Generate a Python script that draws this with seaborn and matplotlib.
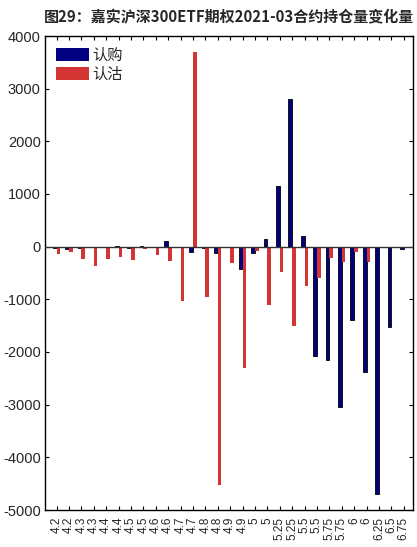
import numpy as np
import pandas as pd
import matplotlib
matplotlib.use("Agg")
import matplotlib.pyplot as plt
import seaborn as sns

# 行权价（有重复：调整合约）
strikes = ["4.2", "4.2", "4.3", "4.3", "4.4", "4.4", "4.5", "4.5", "4.6", "4.6",
           "4.7", "4.7", "4.8", "4.8", "4.9", "4.9", "5", "5", "5.25", "5.25",
           "5.5", "5.5", "5.75", "5.75", "6", "6", "6.25", "6.5", "6.75"]

call_chg = [-20, -40, -20, -15, -15, 10, -30, 20, -10, 100,
            -10, -100, -20, -120, -10, -425, -125, 145, 1160, 2800,
            200, -2080, -2145, -3045, -1385, -2375, -4700, -1530, -40]

put_chg = [-140, -100, -240, -370, -230, -195, -260, -50, -150, -265,
           -1030, 3700, -950, -4520, -310, -2300, -75, -1100, -490, -1505,
           -755, -595, -215, -288, -92, -288, -20, -20, -20]

series_names = ["认购", "认沽"]
colors = {"认购": "#000080", "认沽": "#d33434"}

df = pd.DataFrame({
    "pos": list(range(len(strikes))) * 2,
    "type": [series_names[0]] * len(strikes) + [series_names[1]] * len(strikes),
    "value": call_chg + put_chg,
})

sns.set_theme(style="white")
plt.rcParams["font.family"] = ["Liberation Sans", "Noto Sans CJK SC", "DejaVu Sans"]
plt.rcParams["axes.unicode_minus"] = False

fig = plt.figure(figsize=(4.17, 5.47), dpi=100)
ax = fig.add_axes([45 / 417, 1 - 510 / 547, 368 / 417, 474 / 547])

sns.barplot(data=df, x="pos", y="value", hue="type", hue_order=series_names,
            palette=colors, width=0.6, ax=ax, saturation=1, legend=True)

for bar in ax.patches:
    bar.set_edgecolor("none")
for bar in ax.containers[0]:
    bar.set_edgecolor("black")
    bar.set_linewidth(0.6)

ax.axhline(0, color="#333333", linewidth=1.0, zorder=3)

ax.set_ylim(-5000, 4000)
ax.set_yticks(np.arange(-5000, 4001, 1000))
ax.set_xlim(-0.93, 28.75)
ax.set_xticks(range(len(strikes)))
ax.set_xticklabels(strikes, rotation=90, fontsize=8.5)
ax.tick_params(axis="y", labelsize=10.5)
ax.tick_params(direction="in", length=3, width=0.8, color="black",
               top=True, bottom=True, left=True, right=True, pad=3)
ax.tick_params(axis="x", pad=5)
ax.set_xlabel("")
ax.set_ylabel("")

for s in ax.spines.values():
    s.set_color("black")
    s.set_linewidth(1.0)

leg = ax.legend(loc="upper left", frameon=False, handlelength=2.2,
                handleheight=0.9, handletextpad=0.2, labelspacing=0.15,
                borderaxespad=0.3, prop={"family": ["Noto Sans CJK SC"], "size": 11})
for h in leg.legend_handles:
    h.set_edgecolor("none")

fig.suptitle("图29：嘉实沪深300ETF期权2021-03合约持仓量变化量", x=229 / 417, y=1 - 17 / 547,
             va="center", fontsize=10.8, fontweight="bold",
             family=["Noto Sans CJK SC", "DejaVu Sans"])

fig.savefig("out.png", dpi=100)
